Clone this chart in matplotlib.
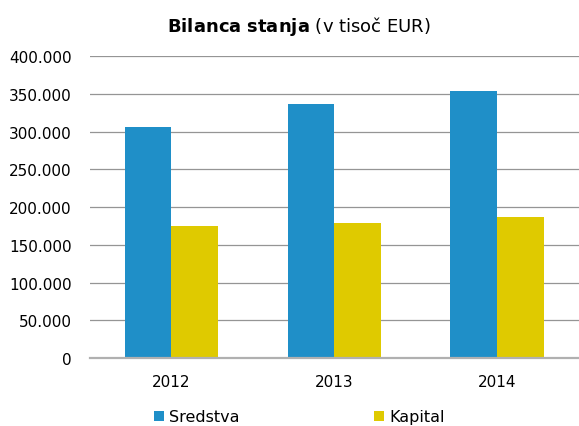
import numpy as np
import matplotlib
matplotlib.use("Agg")
import matplotlib.pyplot as plt
from matplotlib.ticker import FuncFormatter

# =============================================================================
# Data (values in thousand EUR)
# =============================================================================
years = ["2012", "2013", "2014"]
sredstva = [305800, 336700, 354400]
kapital = [174500, 178500, 186900]
series_names = ["Sredstva", "Kapital"]

color_blue = "#1f8fc8"
color_yellow = "#dfca00"

plt.rcParams["font.family"] = "DejaVu Sans"
plt.rcParams["mathtext.fontset"] = "dejavusans"

fig = plt.figure(figsize=(5.79, 4.27), dpi=100)
ax = fig.add_axes([90 / 579, 1 - 358.9 / 427, 488.5 / 579, (358.9 - 57.3) / 427])

x = np.arange(len(years))
w = 0.287
ax.bar(x - w / 2, sredstva, width=w, color=color_blue, label=series_names[0], zorder=3)
ax.bar(x + w / 2, kapital, width=w, color=color_yellow, label=series_names[1], zorder=3)

ax.set_xlim(-0.5, len(years) - 0.5)
ax.set_ylim(0, 400000)
ax.set_yticks(np.arange(0, 400001, 50000))
ax.yaxis.set_major_formatter(FuncFormatter(lambda v, p: f"{int(v):,}".replace(",", ".")))
ax.set_xticks(x)
ax.set_xticklabels(years)

ax.yaxis.grid(True, color="#959595", linewidth=0.9, zorder=0)
for s in ["top", "right", "left"]:
    ax.spines[s].set_visible(False)
ax.spines["bottom"].set_color("#b0b0b0")
ax.spines["bottom"].set_linewidth(1.6)
ax.spines["bottom"].set_zorder(4)
ax.tick_params(axis="both", length=0, labelsize=11, colors="black")
ax.tick_params(axis="y", pad=13)
ax.tick_params(axis="x", pad=11.5)

fig.text(299 / 579, 1 - 31.7 / 427, r"$\mathbf{Bilanca\ stanja}$ (v tisoč EUR)",
         ha="center", va="baseline", fontsize=13)

fig.legend(loc="center left", bbox_to_anchor=(154 / 579, 1 - 418 / 427), ncol=2,
           frameon=False, fontsize=11.5, handlelength=0.65, handleheight=0.65,
           handletextpad=0.3, columnspacing=8.4, borderpad=0, borderaxespad=0)

fig.savefig("out.png", dpi=100)
